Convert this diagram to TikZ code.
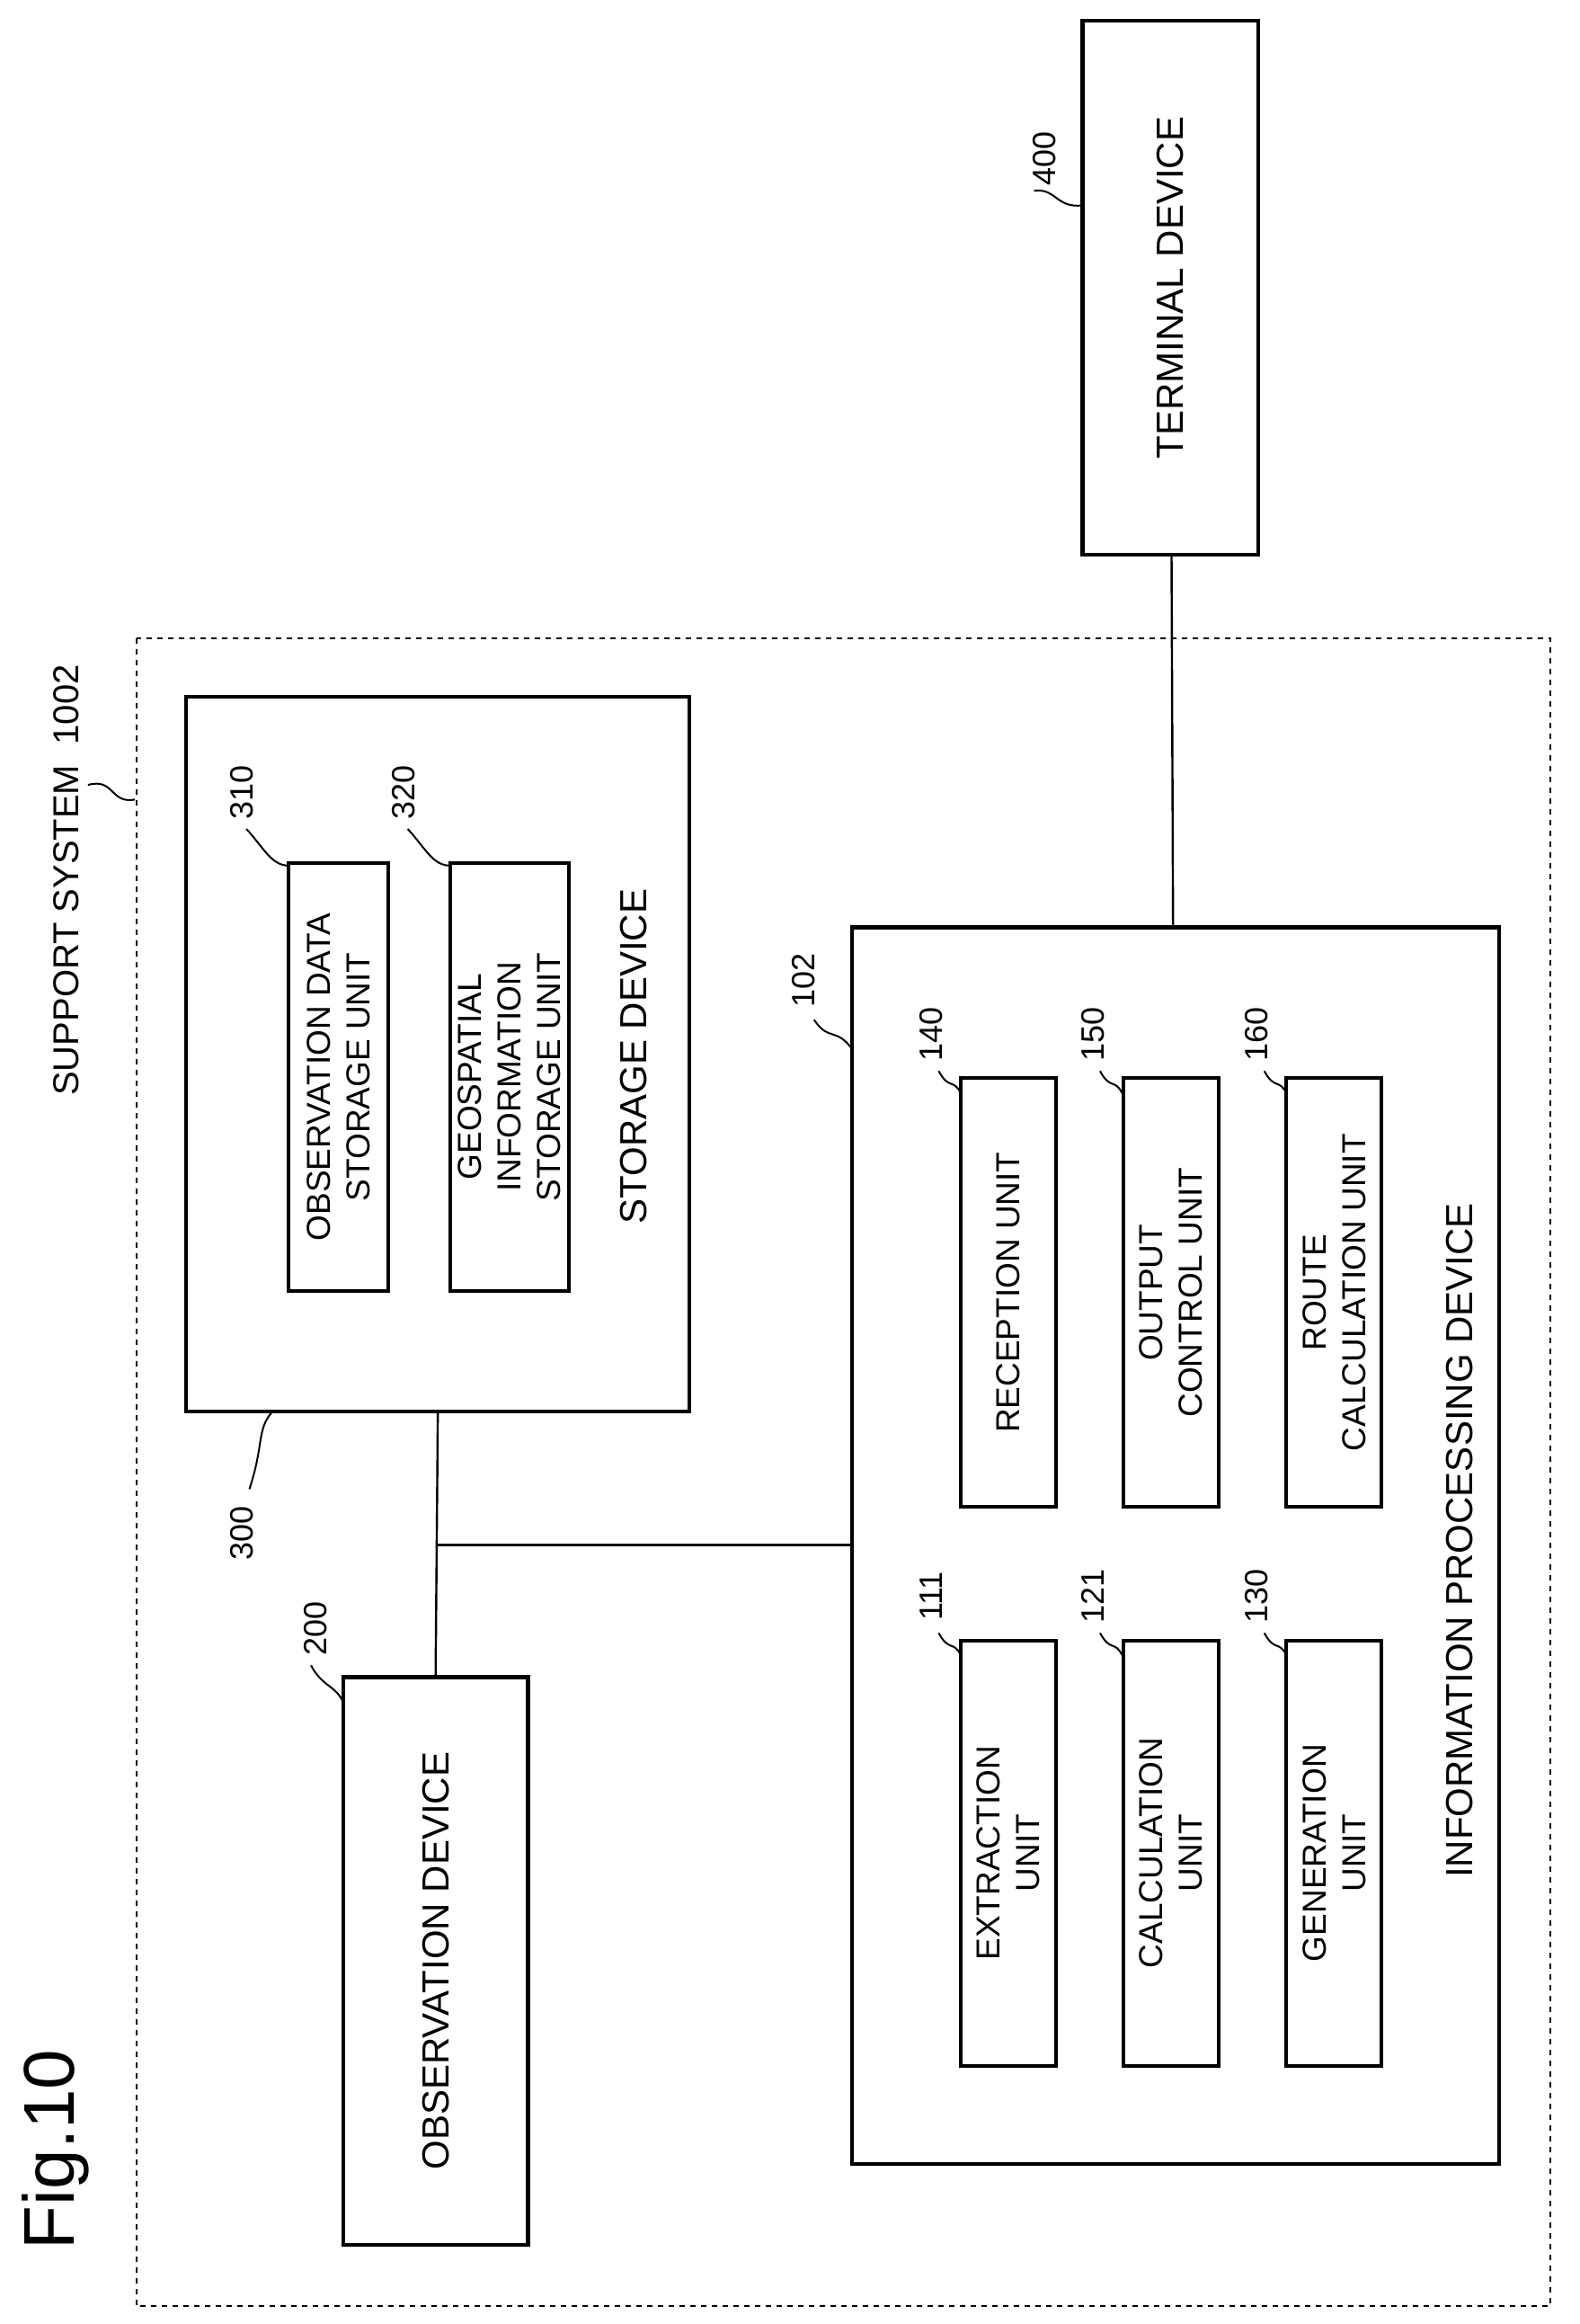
\documentclass[tikz,border=0pt]{standalone}
\usepackage{fontspec}
\setmainfont{Liberation Sans}
\begin{document}
\begin{tikzpicture}[x=0.816pt,y=-0.816pt,
  box/.style={draw,line width=2.2pt,rotate=90,inner sep=0pt,align=center,font=\fontsize{21}{25}\selectfont},
  ubox/.style={box,line width=2pt,font=\fontsize{18.5}{22}\selectfont},
  lab/.style={font=\fontsize{18}{20}\selectfont,rotate=90},
  ld/.style={line width=1pt}]
\useasboundingbox (0,0) rectangle (1077,1584);
\node[rotate=90,font=\fontsize{40}{44}\selectfont,anchor=center] (fig) at (38,1465) {Fig.10};
\node[draw,dashed,line width=1pt,minimum width={1137*0.816pt},minimum height={964*0.816pt},rotate=90] (sys) at (575,1003.5) {};
\node[lab,font=\fontsize{20}{22}\selectfont] (syslab) at (45,600) {SUPPORT SYSTEM\ \ 1002};
\draw[ld] (60,535) .. controls (78,530) and (75,548) .. (92,545);
% terminal
\node[box,minimum width={364*0.816pt},minimum height={120*0.816pt}] (term) at (798,196) {TERMINAL DEVICE};
\node[lab] (l400) at (712,108) {400};
\draw[ld] (705,130) .. controls (720,128) and (720,142) .. (738,140);
% storage
\node[box,minimum width={487*0.816pt},minimum height={343*0.816pt}] (store) at (298.5,718.5) {};
\node[rotate=90,font=\fontsize{21}{25}\selectfont] (storet) at (432,720) {STORAGE DEVICE};
\node[ubox,minimum width={292*0.816pt},minimum height={68*0.816pt}] (obsd) at (231,734) {OBSERVATION DATA\\STORAGE UNIT};
\node[lab] (l310) at (165,540) {310};
\draw[ld] (168,565) .. controls (180,578) and (185,590) .. (197,590);
\node[ubox,minimum width={292*0.816pt},minimum height={81*0.816pt}] (geo) at (347.5,734) {GEOSPATIAL\\INFORMATION\\STORAGE UNIT};
\node[lab] (l320) at (275,540) {320};
\draw[ld] (278,565) .. controls (290,578) and (295,590) .. (307,590);
\node[lab] (l300) at (165,1045) {300};
\draw[ld] (170,1015) .. controls (180,985) and (175,975) .. (185,963);
% observation
\node[box,minimum width={387*0.816pt},minimum height={126*0.816pt}] (obs) at (297,1336.5) {OBSERVATION DEVICE};
\node[lab] (l200) at (215,1110) {200};
\draw[ld] (212,1135) .. controls (220,1150) and (228,1148) .. (234,1160);
% info
\node[box,minimum width={843*0.816pt},minimum height={441*0.816pt}] (info) at (801.5,1053.5) {};
\node[rotate=90,font=\fontsize{21}{25}\selectfont] (infot) at (995,1050) {INFORMATION PROCESSING DEVICE};
\node[lab] (l102) at (548,668) {102};
\draw[ld] (555,695) .. controls (565,710) and (570,700) .. (581,715);
% units
\node[ubox,minimum width={290*0.816pt},minimum height={65*0.816pt}] (ext) at (687.5,1263) {EXTRACTION\\UNIT};
\node[ubox,minimum width={290*0.816pt},minimum height={65*0.816pt}] (cal) at (798.5,1263) {CALCULATION\\UNIT};
\node[ubox,minimum width={290*0.816pt},minimum height={65*0.816pt}] (gen) at (909.5,1263) {GENERATION\\UNIT};
\node[ubox,minimum width={292*0.816pt},minimum height={65*0.816pt}] (rec) at (687.5,881) {RECEPTION UNIT};
\node[ubox,minimum width={292*0.816pt},minimum height={65*0.816pt}] (out) at (798.5,881) {OUTPUT\\CONTROL UNIT};
\node[ubox,minimum width={292*0.816pt},minimum height={65*0.816pt}] (route) at (909.5,881) {ROUTE\\CALCULATION UNIT};
\foreach \n/\x/\y in {111/635/1088,121/745/1088,130/857/1088,140/635/705,150/745/705,160/857/705}{
  \node[lab] (l\n) at (\x,\y) {\n};
  \draw[ld] (\x+5,\y+25) .. controls (\x+12,\y+38) and (\x+15,\y+30) .. (\x+20,\y+40);
}
% connectors
\draw[line width=1.2pt] (term) -- (info);
\draw[line width=1.2pt] (store.west) -- (obs.east);
\coordinate (j) at (298,1053);
\draw[line width=1.2pt] (j) -- (j -| info.north);
\end{tikzpicture}
\end{document}
